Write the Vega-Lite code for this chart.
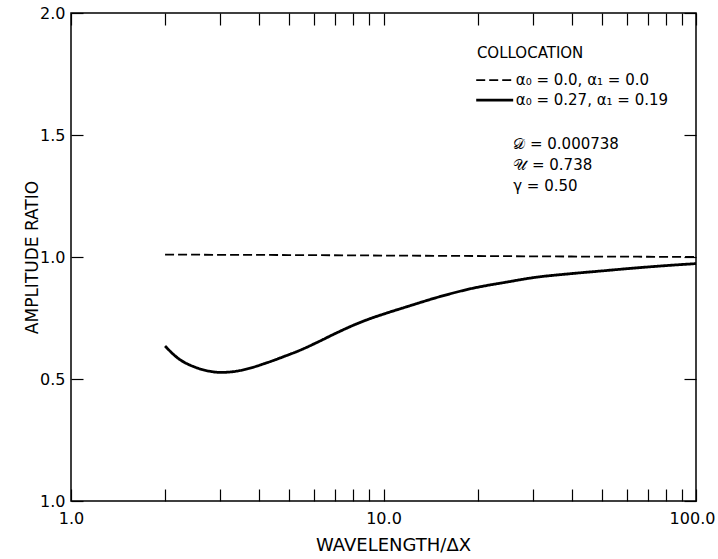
{
  "$schema": "https://vega.github.io/schema/vega-lite/v6.json",
  "width": 625,
  "height": 488,
  "autosize": {"type": "none"},
  "padding": {"left": 71, "top": 13, "right": 22, "bottom": 58},
  "background": "white",
  "config": {
    "view": {"stroke": "black", "strokeWidth": 1.5},
    "font": "DejaVu Sans",
    "axis": {
      "grid": false,
      "domain": false,
      "tickColor": "black",
      "tickWidth": 1.2,
      "labelColor": "black",
      "titleColor": "black",
      "labelFont": "DejaVu Sans",
      "titleFont": "DejaVu Sans",
      "labelFontSize": 16,
      "titleFontWeight": "normal"
    }
  },
  "datasets": {
    "curves": [
      {"wl": 2, "ratio": 1.010, "case": "α₀ = 0.0,  α₁ = 0.0"},
      {"wl": 3, "ratio": 1.009, "case": "α₀ = 0.0,  α₁ = 0.0"},
      {"wl": 5, "ratio": 1.008, "case": "α₀ = 0.0,  α₁ = 0.0"},
      {"wl": 10, "ratio": 1.006, "case": "α₀ = 0.0,  α₁ = 0.0"},
      {"wl": 20, "ratio": 1.004, "case": "α₀ = 0.0,  α₁ = 0.0"},
      {"wl": 40, "ratio": 1.002, "case": "α₀ = 0.0,  α₁ = 0.0"},
      {"wl": 70, "ratio": 1.001, "case": "α₀ = 0.0,  α₁ = 0.0"},
      {"wl": 100, "ratio": 1.000, "case": "α₀ = 0.0,  α₁ = 0.0"},
      {"wl": 2.0, "ratio": 0.635, "case": "α₀ = 0.27,  α₁ = 0.19"},
      {"wl": 2.2, "ratio": 0.585, "case": "α₀ = 0.27,  α₁ = 0.19"},
      {"wl": 2.5, "ratio": 0.548, "case": "α₀ = 0.27,  α₁ = 0.19"},
      {"wl": 2.8, "ratio": 0.531, "case": "α₀ = 0.27,  α₁ = 0.19"},
      {"wl": 3.0, "ratio": 0.527, "case": "α₀ = 0.27,  α₁ = 0.19"},
      {"wl": 3.3, "ratio": 0.530, "case": "α₀ = 0.27,  α₁ = 0.19"},
      {"wl": 3.7, "ratio": 0.543, "case": "α₀ = 0.27,  α₁ = 0.19"},
      {"wl": 4.2, "ratio": 0.565, "case": "α₀ = 0.27,  α₁ = 0.19"},
      {"wl": 4.8, "ratio": 0.592, "case": "α₀ = 0.27,  α₁ = 0.19"},
      {"wl": 5.5, "ratio": 0.622, "case": "α₀ = 0.27,  α₁ = 0.19"},
      {"wl": 6.2, "ratio": 0.653, "case": "α₀ = 0.27,  α₁ = 0.19"},
      {"wl": 7.0, "ratio": 0.686, "case": "α₀ = 0.27,  α₁ = 0.19"},
      {"wl": 8.0, "ratio": 0.720, "case": "α₀ = 0.27,  α₁ = 0.19"},
      {"wl": 9.0, "ratio": 0.746, "case": "α₀ = 0.27,  α₁ = 0.19"},
      {"wl": 10, "ratio": 0.766, "case": "α₀ = 0.27,  α₁ = 0.19"},
      {"wl": 12, "ratio": 0.798, "case": "α₀ = 0.27,  α₁ = 0.19"},
      {"wl": 15, "ratio": 0.836, "case": "α₀ = 0.27,  α₁ = 0.19"},
      {"wl": 19, "ratio": 0.870, "case": "α₀ = 0.27,  α₁ = 0.19"},
      {"wl": 25, "ratio": 0.898, "case": "α₀ = 0.27,  α₁ = 0.19"},
      {"wl": 30, "ratio": 0.915, "case": "α₀ = 0.27,  α₁ = 0.19"},
      {"wl": 40, "ratio": 0.932, "case": "α₀ = 0.27,  α₁ = 0.19"},
      {"wl": 50, "ratio": 0.943, "case": "α₀ = 0.27,  α₁ = 0.19"},
      {"wl": 60, "ratio": 0.952, "case": "α₀ = 0.27,  α₁ = 0.19"},
      {"wl": 75, "ratio": 0.962, "case": "α₀ = 0.27,  α₁ = 0.19"},
      {"wl": 100, "ratio": 0.973, "case": "α₀ = 0.27,  α₁ = 0.19"}
    ],
    "one": [{"key": "annotation"}]
  },
  "layer": [
    {
      "data": {"name": "curves"},
      "mark": {"type": "line", "color": "black", "interpolate": "monotone", "strokeCap": "butt"},
      "encoding": {
        "x": {
          "field": "wl",
          "type": "quantitative",
          "scale": {"type": "log", "domain": [1, 100], "nice": false},
          "axis": {
            "orient": "bottom",
            "values": [1, 2, 3, 4, 5, 6, 7, 8, 9, 10, 20, 30, 40, 50, 60, 70, 80, 90, 100],
            "labelExpr": "datum.value == 1 ? '1.0' : datum.value == 10 ? '10.0' : datum.value == 100 ? '100.0' : ''",
            "tickSize": -12,
            "labelPadding": 21,
            "labelOffset": {"condition": {"test": "datum.value == 100", "value": -4}, "value": 0},
            "labelFlush": false,
            "labelOverlap": false,
            "title": "WAVELENGTH/ΔX",
            "titleFontSize": 18,
            "titlePadding": 10,
            "titleX": 322
          }
        },
        "y": {
          "field": "ratio",
          "type": "quantitative",
          "scale": {"domain": [0, 2], "nice": false, "zero": false},
          "axis": {
            "orient": "left",
            "values": [0, 0.5, 1, 1.5, 2],
            "labelExpr": "datum.value == 0 ? '1.0' : format(datum.value, '.1f')",
            "tickSize": -12,
            "labelPadding": 18,
            "title": "AMPLITUDE RATIO",
            "titleFontSize": 17,
            "titlePadding": -2
          }
        },
        "strokeDash": {
          "field": "case",
          "type": "nominal",
          "scale": {
            "domain": ["α₀ = 0.0,  α₁ = 0.0", "α₀ = 0.27,  α₁ = 0.19"],
            "range": [[9, 4], [1, 0]]
          },
          "legend": null
        },
        "strokeWidth": {
          "field": "case",
          "type": "ordinal",
          "scale": {
            "domain": ["α₀ = 0.0,  α₁ = 0.0", "α₀ = 0.27,  α₁ = 0.19"],
            "range": [1.8, 2.8]
          },
          "legend": null
        }
      }
    },
    {
      "data": {"name": "one"},
      "mark": {"type": "text", "align": "left", "baseline": "middle", "fontSize": 15, "color": "black", "font": "DejaVu Sans"},
      "encoding": {
        "x": {"datum": 19.9, "type": "quantitative", "axis": null},
        "y": {"datum": 1.838, "type": "quantitative", "axis": null},
        "text": {"value": "COLLOCATION"}
      }
    },
    {
      "data": {"name": "one"},
      "mark": {"type": "rule", "color": "black", "strokeWidth": 1.8, "strokeDash": [9, 4]},
      "encoding": {
        "x": {"datum": 19.8, "type": "quantitative", "axis": null},
        "x2": {"datum": 26.0},
        "y": {"datum": 1.725, "type": "quantitative", "axis": null}
      }
    },
    {
      "data": {"name": "one"},
      "mark": {"type": "rule", "color": "black", "strokeWidth": 2.8},
      "encoding": {
        "x": {"datum": 19.8, "type": "quantitative", "axis": null},
        "x2": {"datum": 26.0},
        "y": {"datum": 1.643, "type": "quantitative", "axis": null}
      }
    },
    {
      "data": {"name": "one"},
      "mark": {"type": "text", "align": "left", "baseline": "middle", "fontSize": 15, "color": "black", "font": "DejaVu Sans"},
      "encoding": {
        "x": {"datum": 26.5, "type": "quantitative", "axis": null},
        "y": {"datum": 1.725, "type": "quantitative", "axis": null},
        "text": {"value": "α₀ = 0.0,  α₁ = 0.0"}
      }
    },
    {
      "data": {"name": "one"},
      "mark": {"type": "text", "align": "left", "baseline": "middle", "fontSize": 15, "color": "black", "font": "DejaVu Sans"},
      "encoding": {
        "x": {"datum": 26.5, "type": "quantitative", "axis": null},
        "y": {"datum": 1.643, "type": "quantitative", "axis": null},
        "text": {"value": "α₀ = 0.27,  α₁ = 0.19"}
      }
    },
    {
      "data": {"name": "one"},
      "mark": {"type": "text", "align": "left", "baseline": "top", "fontSize": 15, "lineHeight": 21, "color": "black", "font": "DejaVu Sans"},
      "encoding": {
        "x": {"datum": 26, "type": "quantitative", "axis": null},
        "y": {"datum": 1.492, "type": "quantitative", "axis": null},
        "text": {"value": ["𝒟 = 0.000738", "𝒰 = 0.738", "γ = 0.50"]}
      }
    },
    {
      "data": {"name": "curves"},
      "mark": {"type": "line", "strokeOpacity": 0},
      "encoding": {
        "x": {
          "field": "wl",
          "type": "quantitative",
          "axis": {
            "orient": "top",
            "values": [1, 2, 3, 4, 5, 6, 7, 8, 9, 10, 20, 30, 40, 50, 60, 70, 80, 90, 100],
            "labels": false,
            "tickSize": -12,
            "title": null
          }
        },
        "y": {
          "field": "ratio",
          "type": "quantitative",
          "axis": {
            "orient": "right",
            "values": [0, 0.5, 1, 1.5, 2],
            "labels": false,
            "tickSize": -12,
            "title": null
          }
        }
      }
    }
  ],
  "resolve": {"axis": {"x": "independent", "y": "independent"}}
}
